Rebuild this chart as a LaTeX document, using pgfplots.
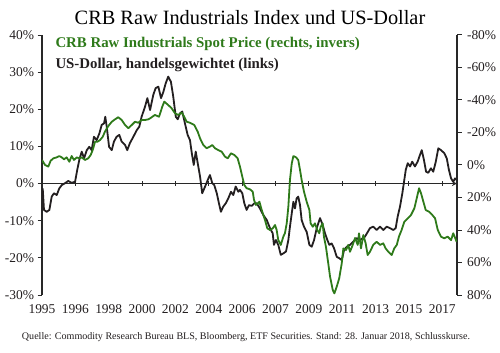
\documentclass[border=0pt]{standalone}
\usepackage{pgfplots}
\usepackage{pgfplotstable}
\pgfplotsset{compat=1.18}
\usepackage{fontspec}
\setmainfont{Liberation Serif}
\definecolor{cgreen}{RGB}{46,122,26}
\definecolor{cblack}{RGB}{35,31,32}
\definecolor{caxis}{RGB}{40,40,40}

\pgfplotstableread{
x y
1995.04 -1.3
1995.11 -7.1
1995.26 -7.6
1995.41 -7.1
1995.54 -3.5
1995.67 -2.6
1995.82 -3.1
1995.96 -1.3
1996.10 -0.4
1996.28 0.1
1996.46 0.7
1996.65 0.2
1996.84 0.5
1996.96 3.7
1997.08 6.5
1997.21 8.6
1997.34 6.8
1997.49 9.0
1997.63 9.9
1997.76 9.0
1997.89 12.6
1998.04 11.7
1998.19 13.5
1998.32 15.8
1998.45 16.2
1998.52 18.0
1998.60 15.3
1998.73 9.9
1998.88 9.0
1999.00 11.3
1999.15 12.6
1999.30 13.1
1999.43 11.3
1999.62 10.4
1999.74 9.0
1999.89 10.9
2000.08 12.6
2000.27 14.4
2000.41 15.3
2000.54 18.0
2000.73 20.7
2000.86 23.0
2001.01 19.8
2001.19 23.9
2001.32 25.7
2001.47 26.1
2001.62 23.0
2001.75 24.7
2001.88 27.0
2002.02 28.8
2002.17 27.4
2002.30 23.4
2002.44 18.0
2002.55 17.3
2002.67 18.9
2002.80 19.4
2002.95 16.2
2003.10 13.1
2003.23 11.7
2003.33 8.2
2003.44 5.0
2003.55 8.6
2003.66 5.5
2003.79 1.9
2003.91 -2.6
2004.07 -0.8
2004.22 1.0
2004.34 2.3
2004.47 0.1
2004.58 -0.4
2004.72 -2.6
2004.84 -5.3
2004.95 -7.6
2005.08 -6.2
2005.22 -5.3
2005.36 -4.0
2005.51 -2.2
2005.64 -3.1
2005.77 -0.8
2005.92 -2.2
2006.01 -1.7
2006.14 -2.6
2006.25 -5.3
2006.38 -7.1
2006.51 -5.8
2006.66 -6.0
2006.81 -5.3
2006.94 -5.3
2007.12 -6.7
2007.31 -8.5
2007.50 -9.8
2007.68 -12.0
2007.83 -13.4
2007.90 -16.5
2008.01 -15.2
2008.14 -16.5
2008.28 -19.2
2008.42 -18.8
2008.57 -18.3
2008.70 -15.2
2008.79 -11.6
2008.89 -8.0
2008.98 -4.9
2009.07 -6.7
2009.16 -4.0
2009.25 -3.5
2009.35 -5.8
2009.44 -9.8
2009.57 -11.6
2009.72 -13.0
2009.87 -16.5
2010.00 -17.0
2010.13 -15.2
2010.28 -12.0
2010.46 -9.3
2010.61 -11.1
2010.74 -13.4
2010.87 -15.2
2010.98 -16.5
2011.11 -16.1
2011.24 -17.4
2011.39 -19.7
2011.53 -20.1
2011.67 -20.6
2011.80 -17.9
2011.95 -17.0
2012.13 -16.5
2012.31 -15.6
2012.50 -14.7
2012.69 -15.2
2012.96 -14.3
2013.24 -12.0
2013.42 -11.6
2013.61 -12.5
2013.80 -11.6
2013.98 -12.5
2014.17 -11.6
2014.35 -12.0
2014.54 -12.5
2014.67 -12.0
2014.78 -8.9
2014.91 -6.2
2015.04 -2.6
2015.15 1.0
2015.23 3.7
2015.34 5.5
2015.47 4.6
2015.59 5.9
2015.74 4.6
2015.89 5.9
2016.02 7.7
2016.12 9.0
2016.24 6.4
2016.36 3.2
2016.48 2.9
2016.63 4.1
2016.76 3.2
2016.90 5.9
2017.04 9.5
2017.19 9.0
2017.37 8.2
2017.51 6.8
2017.63 3.7
2017.75 1.4
2017.87 0.5
2017.97 1.4
2018.06 1.0
}\usd

\pgfplotstableread{
x y
1995.00 -3.1
1995.17 0.0
1995.35 1.0
1995.48 -2.6
1995.63 -4.1
1995.82 -4.7
1995.96 -5.5
1996.10 -4.7
1996.22 -3.5
1996.37 -4.7
1996.52 -2.0
1996.65 -5.5
1996.78 -3.1
1996.93 -4.7
1997.07 -4.1
1997.21 -4.7
1997.39 -3.1
1997.57 -4.1
1997.71 -6.2
1997.82 -9.2
1997.95 -14.3
1998.08 -14.3
1998.23 -15.4
1998.38 -17.4
1998.50 -20.5
1998.69 -24.0
1998.88 -26.6
1999.06 -28.1
1999.24 -29.4
1999.43 -27.7
1999.62 -24.6
1999.80 -22.6
1999.99 -24.6
2000.17 -26.6
2000.36 -26.0
2000.54 -27.7
2000.73 -27.7
2000.91 -28.1
2001.01 -28.7
2001.28 -30.8
2001.51 -29.7
2001.69 -35.9
2001.80 -39.0
2002.02 -36.9
2002.21 -34.9
2002.40 -31.8
2002.58 -30.8
2002.77 -32.2
2002.91 -29.7
2003.05 -26.6
2003.23 -26.0
2003.47 -24.6
2003.66 -20.5
2003.79 -16.4
2003.97 -12.3
2004.16 -10.3
2004.34 -11.3
2004.47 -12.3
2004.62 -10.3
2004.80 -9.2
2004.99 -8.2
2005.18 -5.1
2005.33 -4.1
2005.51 -7.2
2005.69 -6.2
2005.88 -4.1
2006.01 1.0
2006.14 7.2
2006.25 12.3
2006.38 14.3
2006.57 15.0
2006.72 16.4
2006.79 21.5
2006.90 24.6
2007.09 22.6
2007.22 27.7
2007.40 33.8
2007.53 39.0
2007.68 40.0
2007.83 39.0
2007.96 36.9
2008.05 40.0
2008.14 46.2
2008.28 49.2
2008.42 44.1
2008.51 42.0
2008.61 35.9
2008.70 25.7
2008.79 9.2
2008.89 -1.0
2008.98 -5.5
2009.13 -4.7
2009.25 -3.1
2009.35 3.1
2009.44 9.2
2009.57 16.4
2009.72 22.6
2009.87 27.7
2009.94 35.9
2010.06 38.0
2010.18 35.9
2010.31 40.0
2010.42 42.0
2010.50 38.0
2010.61 35.9
2010.68 44.1
2010.79 50.3
2010.92 60.5
2011.02 68.7
2011.17 76.9
2011.26 79.0
2011.39 74.9
2011.53 69.7
2011.67 60.5
2011.76 51.3
2011.91 52.3
2012.03 49.2
2012.13 53.4
2012.28 49.2
2012.41 44.9
2012.56 49.2
2012.63 42.0
2012.74 51.3
2012.87 43.1
2013.00 48.2
2013.11 55.4
2013.24 53.4
2013.42 49.2
2013.61 47.2
2013.80 49.2
2013.98 48.2
2014.11 51.3
2014.26 53.4
2014.45 55.4
2014.59 51.3
2014.73 49.2
2014.85 44.1
2015.00 40.0
2015.15 34.9
2015.34 32.8
2015.52 30.8
2015.71 26.6
2015.84 20.5
2015.97 14.3
2016.08 17.4
2016.21 22.6
2016.34 27.7
2016.52 28.7
2016.71 30.8
2016.86 32.8
2017.01 40.0
2017.19 44.1
2017.37 45.1
2017.56 44.1
2017.75 46.2
2017.87 42.0
2018.06 47.2
}\crb

\begin{document}
\begin{tikzpicture}
\useasboundingbox (0bp,0bp) rectangle (500bp,-353bp);
\pgfplotsset{
  base/.style={
    scale only axis, width=415bp, height=260bp,
    at={(42bp,-295bp)}, anchor=south west,
    xmin=1995, xmax=2018.08,
    axis line style={-, line width=1.3bp, draw=caxis},
    tick style={line width=1bp, draw=caxis},
    major tick length=4.5bp,
    tick align=outside,
    /pgf/number format/assume math mode=true,
    tick label style={font=\fontsize{13.5}{15}\selectfont, text=cblack},
    xtick={1995,1996.855,1998.71,2000.565,2002.42,2004.275,2006.13,2007.985,2009.84,2011.695,2013.55,2015.405,2017.26},
  },
}
% zero line with ticks
\begin{axis}[base, ymin=-30, ymax=40,
  axis x line=middle, axis y line=none,
  xticklabels={}]
\end{axis}
% left axis: US-Dollar
\begin{axis}[base, ymin=-30, ymax=40,
  axis x line*=bottom, axis y line*=left,
  x axis line style={draw=none}, xtick style={draw=none},
  xticklabels={1995,1996,1998,2000,2002,2004,2006,2007,2009,2011,2013,2015,2017},
  xticklabel style={yshift=-2bp},
  ytick={-30,-20,...,40},
  yticklabel={\pgfmathprintnumber{\tick}\%},
  yticklabel style={xshift=0bp}]
\addplot[cblack, line width=1.8bp, line join=round] table[x=x,y=y]{\usd};
\end{axis}
% right axis: CRB (inverted)
\begin{axis}[base, ymin=-80, ymax=80, y dir=reverse,
  axis x line=none, axis y line*=right,
  ytick={-80,-60,...,80},
  yticklabel={\pgfmathprintnumber{\tick}\%},
  yticklabel style={xshift=2bp}]
\addplot[cgreen, line width=1.8bp, line join=round] table[x=x,y=y]{\crb};
\end{axis}

\node[font=\fontsize{20.4}{23}\selectfont, text=black] at (250bp,-18bp) {CRB Raw Industrials Index und US-Dollar};
\node[anchor=west, font=\bfseries\fontsize{14.9}{17}\selectfont, text=cgreen] at (52bp,-44bp) {CRB Raw Industrials Spot Price (rechts, invers)};
\node[anchor=west, font=\bfseries\fontsize{14.9}{17}\selectfont, text=cblack] at (52bp,-65bp) {US-Dollar, handelsgewichtet (links)};
\node[font=\fontsize{10.1}{12}\selectfont, text=cblack] at (246bp,-337bp) {Quelle: Commodity Research Bureau BLS, Bloomberg, ETF Securities. Stand: 28. Januar 2018, Schlusskurse.};
\end{tikzpicture}
\end{document}
